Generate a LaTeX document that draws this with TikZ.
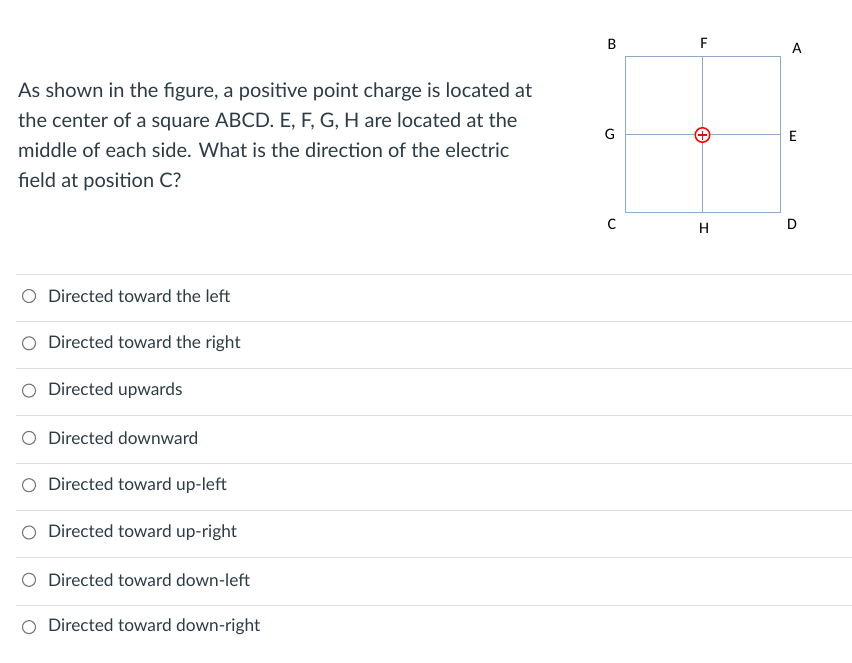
\documentclass[tikz,border=0pt]{standalone}
\usepackage{fontspec}
\setmainfont{Lato}
\newfontfamily\labelfont{Carlito}
\usetikzlibrary{positioning}
\definecolor{inktext}{HTML}{2D3B45}
\definecolor{rulegray}{HTML}{DDDDDD}
\definecolor{gridblue}{HTML}{8EAACB}
\definecolor{radiogray}{HTML}{777777}
\tikzset{
  stemline/.style={inner sep=0pt, anchor=base west, text=inktext, font=\fontsize{20}{30}\selectfont},
  optline/.style={inner sep=0pt, anchor=west, text=inktext, font=\fontsize{17.3}{20}\selectfont},
  corner/.style={inner sep=0pt, text=black, font=\labelfont\fontsize{16}{16}\selectfont},
  radio/.style={circle, draw=radiogray, line width=1.1pt, minimum size=13pt, inner sep=0pt},
  sepline/.style={draw=rulegray, line width=1pt},
  gridline/.style={draw=gridblue, line width=1pt}
}

\begin{document}
\begin{tikzpicture}[x=1pt,y=-1pt]
\useasboundingbox (0,0) rectangle (852,662);
% question
\node[stemline] (q1) at (18,97.5) {As shown in the figure, a positive point charge is located at};
\node[stemline] (q2) at (18,127.5) {the center of a square ABCD. E, F, G, H are located at the};
\node[stemline] (q3) at (18,157.5) {middle of each side. What is the direction of the electric};
\node[stemline] (q4) at (18,187.5) {field at position C?};
% square
\coordinate (B) at (625,56);
\coordinate (A) at (780,56);
\coordinate (C) at (625,212);
\coordinate (D) at (780,212);
\coordinate (F) at (702.5,56);
\coordinate (H) at (702.5,212);
\coordinate (G) at (625,134);
\coordinate (E) at (780,134);
\draw[gridline] (B) rectangle (D);
\draw[gridline] (F) -- (H);
\draw[gridline] (G) -- (E);
\node[circle, draw=red, fill=white, line width=1.5pt, minimum size=14.5pt, inner sep=0pt] (charge) at (702.5,135) {};
\draw[red, line width=1.4pt] ([xshift=-4.5pt]charge.center) -- ([xshift=4.5pt]charge.center);
\draw[red, line width=1.4pt] ([yshift=-4.5pt]charge.center) -- ([yshift=4.5pt]charge.center);
\node[corner] (lB) at (612,44) {B};
\node[corner] (lF) at (704,43) {F};
\node[corner] (lA) at (797,48) {A};
\node[corner] (lG) at (610,134) {G};
\node[corner] (lE) at (793,136) {E};
\node[corner] (lC) at (612,224) {C};
\node[corner] (lH) at (704,228) {H};
\node[corner] (lD) at (792,224) {D};
% choices
\foreach \t [count=\i] in {Directed toward the left, Directed toward the right, Directed upwards,
    Directed downward, Directed toward up-left, Directed toward up-right,
    Directed toward down-left, Directed toward down-right}{
  \draw[sepline] (16,{274+47.3*(\i-1)}) -- (852,{274+47.3*(\i-1)});
  \node[radio] (r\i) at (29,{296+47.3*(\i-1)}) {};
  \node[optline] (o\i) at (48,{296+47.3*(\i-1)}) {\t};
}
\end{tikzpicture}
\end{document}
